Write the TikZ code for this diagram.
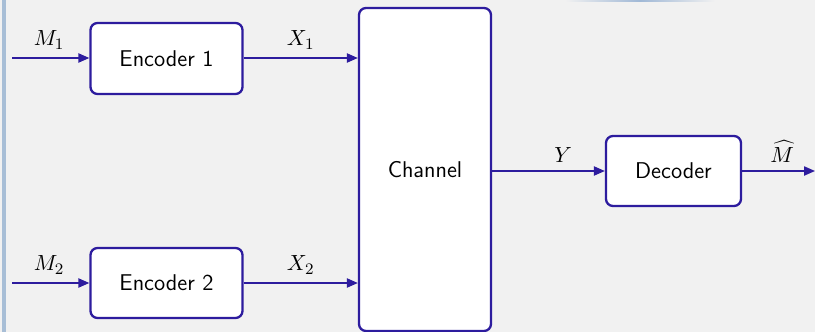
\documentclass[tikz,border=0pt]{standalone}
\usetikzlibrary{arrows.meta}
\definecolor{edgeblue}{RGB}{45,28,158}
\definecolor{bgc}{RGB}{241,241,241}
\definecolor{sideb}{RGB}{168,190,214}
\definecolor{topb}{RGB}{160,184,214}
\begin{document}
\begin{tikzpicture}[x=0.5pt,y=-0.5pt,
  blk/.style={draw=edgeblue,line width=1.15pt,fill=white,rounded corners=3.5pt,
    font=\sffamily\fontsize{11.4}{13}\selectfont,inner sep=0pt},
  conn/.style={draw=edgeblue,line width=0.8pt,-{Triangle[length=5.5pt,width=4.6pt]}},
  lbl/.style={font=\fontsize{11.4}{13}\selectfont,inner sep=0pt}]
\fill[bgc] (0,0) rectangle (815,332);
\useasboundingbox (0,0) rectangle (815,332);
\fill[sideb] (2,0) rectangle (5.5,332);
\shade[left color=bgc,right color=topb] (565,0) rectangle (640,1.2);
\shade[left color=topb,right color=bgc] (640,0) rectangle (715,1.2);
% boxes
\node[blk,minimum width=76pt,minimum height=35.5pt] (e1) at (166.5,58.5) {Encoder 1};
\node[blk,minimum width=76pt,minimum height=35pt] (e2) at (166.5,283) {Encoder 2};
\node[blk,minimum width=66pt,minimum height=161.5pt] (ch) at (425,169.5) {Channel};
\node[blk,minimum width=67.5pt,minimum height=35pt] (dec) at (673.5,171) {Decoder};
% free ends
\coordinate (m1) at (12,58);
\coordinate (m2) at (12,283);
\coordinate (out) at (815,171);
\coordinate (x1e) at (ch.west |- 0,58);
\coordinate (x2e) at (ch.west |- 0,283);
\coordinate (ys) at (ch.east |- 0,171);
% connectors
\draw[conn] (m1) -- (e1.west |- m1) node[lbl,pos=0.48,above=4pt] (lm1) {$M_1$};
\draw[conn] (m2) -- (e2.west |- m2) node[lbl,pos=0.48,above=4pt] (lm2) {$M_2$};
\draw[conn] (e1.east |- 0,58) -- (x1e) node[lbl,midway,above=4pt] (lx1) {$X_1$};
\draw[conn] (e2.east |- 0,283) -- (x2e) node[lbl,midway,above=4pt] (lx2) {$X_2$};
\draw[conn] (ys) -- (dec.west) node[lbl,pos=0.63,above=4pt] (ly) {$Y$};
\draw[conn] (dec.east) -- (out) node[lbl,pos=0.55,above=4pt] (lm) {$\widehat{M}$};
\end{tikzpicture}
\end{document}
